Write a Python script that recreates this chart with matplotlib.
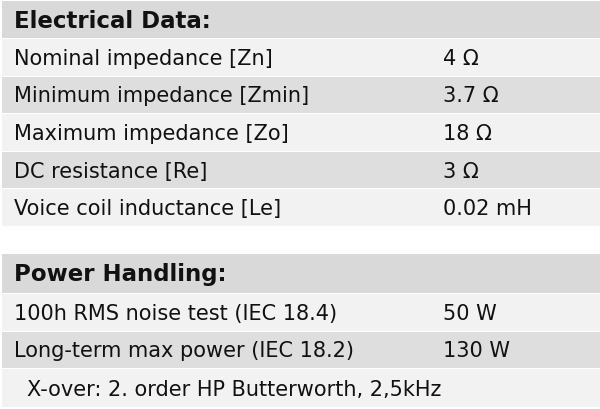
import matplotlib.pyplot as plt
from matplotlib.patches import Rectangle

elec_title = "Electrical Data:"
elec_labels = ["Nominal impedance [Zn]", "Minimum impedance [Zmin]", "Maximum impedance [Zo]",
               "DC resistance [Re]", "Voice coil inductance [Le]"]
elec_values = ["4 Ω", "3.7 Ω", "18 Ω", "3 Ω", "0.02 mH"]
power_title = "Power Handling:"
power_labels = ["100h RMS noise test (IEC 18.4)", "Long-term max power (IEC 18.2)"]
power_values = ["50 W", "130 W"]
note = "X-over: 2. order HP Butterworth, 2,5kHz"

HEAD = "#d9d9d9"
LIGHT = "#f2f2f2"
DARK = "#dedede"

fig = plt.figure(figsize=(6, 4.1), dpi=100)
ax = fig.add_axes([0, 0, 1, 1])
ax.set_xlim(0, 600)
ax.set_ylim(410, 0)
ax.axis('off')

def row(y0, y1, color, text=None, value=None, bold=False, tx=14):
    ax.add_patch(Rectangle((2, y0), 598, y1 - y0 - 1, color=color, lw=0))
    yc = (y0 + y1) / 2
    if text:
        ax.text(tx, yc, text, fontsize=16.5 if bold else 15, fontweight='bold' if bold else 'normal',
                va='center', ha='left', color='#111111')
    if value:
        ax.text(443, yc, value, fontsize=15, va='center', ha='left', color='#111111')

# electrical block
row(2, 40, HEAD, elec_title, bold=True)
y = 40
for i, (lab, val) in enumerate(zip(elec_labels, elec_values)):
    row(y, y + 37.6, LIGHT if i % 2 == 0 else DARK, lab, val)
    y += 37.6

# power block
row(255, 295, HEAD, power_title, bold=True)
y = 295
for i, (lab, val) in enumerate(zip(power_labels, power_values)):
    row(y, y + 37.6, LIGHT if i % 2 == 0 else DARK, lab, val)
    y += 37.6
row(y, 409, LIGHT, note, tx=27)

fig.savefig("out.png", dpi=100)
